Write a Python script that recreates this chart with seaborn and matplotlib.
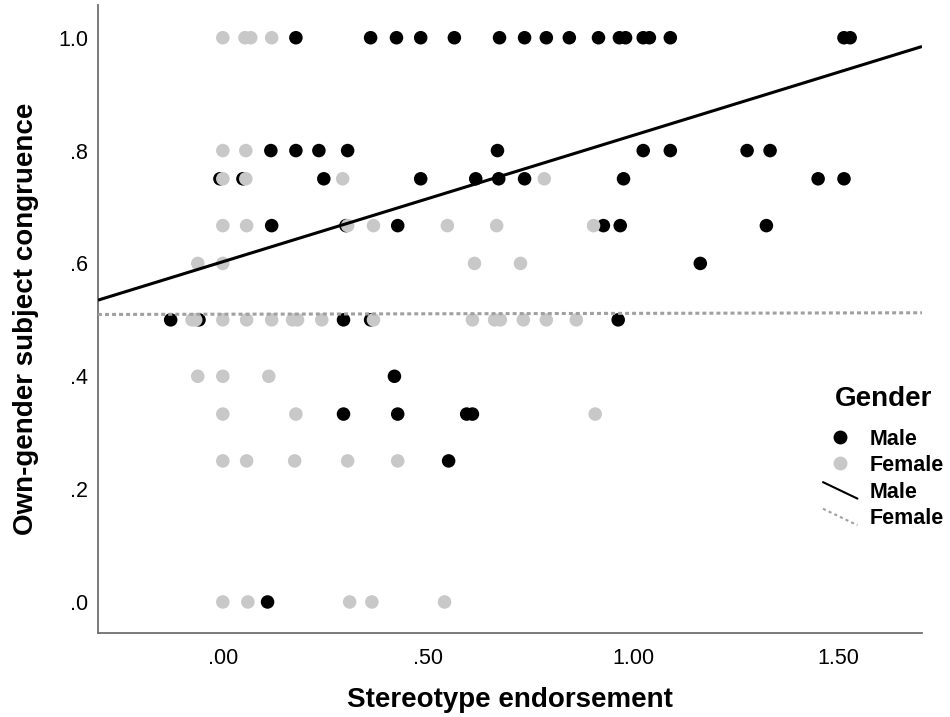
import matplotlib
matplotlib.use("Agg")
import numpy as np
import pandas as pd
import matplotlib.pyplot as plt
import seaborn as sns
from matplotlib.lines import Line2D
from matplotlib.legend_handler import HandlerBase

# ---- data ----
male_x = [
    0.178, 0.360, 0.423, 0.482, 0.564, 0.674, 0.735, 0.788, 0.844, 0.915,
    0.966, 0.981, 1.024, 1.039, 1.090, 1.513, 1.528,
    0.117, 0.178, 0.234, 0.304, 0.669, 1.024, 1.090, 1.277, 1.333,
    -0.007, 0.049, 0.246, 0.482, 0.616, 0.672, 0.735, 0.976, 1.450, 1.513,
    0.119, 0.300, 0.426, 0.927, 0.968, 1.324,
    1.163,
    -0.127, -0.058, 0.294, 0.360, 0.963,
    0.418,
    0.294, 0.426, 0.594, 0.608,
    0.550,
    0.109,
]
male_y = [
    1.0, 1.0, 1.0, 1.0, 1.0, 1.0, 1.0, 1.0, 1.0, 1.0,
    1.0, 1.0, 1.0, 1.0, 1.0, 1.0, 1.0,
    0.8, 0.8, 0.8, 0.8, 0.8, 0.8, 0.8, 0.8, 0.8,
    0.75, 0.75, 0.75, 0.75, 0.75, 0.75, 0.75, 0.75, 0.75, 0.75,
    0.667, 0.667, 0.667, 0.667, 0.667, 0.667,
    0.6,
    0.5, 0.5, 0.5, 0.5, 0.5,
    0.4,
    0.333, 0.333, 0.333, 0.333,
    0.25,
    0.0,
]
female_x = [
    0.000, 0.054, 0.068, 0.119,
    0.000, 0.056,
    0.000, 0.056, 0.292, 0.783,
    0.000, 0.058, 0.304, 0.367, 0.547, 0.667, 0.903,
    -0.061, 0.000, 0.613, 0.725,
    -0.075, -0.066, 0.000, 0.058, 0.119, 0.170, 0.182, 0.241, 0.367, 0.608,
    0.662, 0.676, 0.732, 0.788, 0.861,
    -0.061, 0.000, 0.112,
    0.000, 0.178, 0.907,
    0.000, 0.058, 0.175, 0.304, 0.426,
    0.000, 0.061, 0.309, 0.363, 0.540,
]
female_y = [
    1.0, 1.0, 1.0, 1.0,
    0.8, 0.8,
    0.75, 0.75, 0.75, 0.75,
    0.667, 0.667, 0.667, 0.667, 0.667, 0.667, 0.667,
    0.6, 0.6, 0.6, 0.6,
    0.5, 0.5, 0.5, 0.5, 0.5, 0.5, 0.5, 0.5, 0.5, 0.5,
    0.5, 0.5, 0.5, 0.5, 0.5,
    0.4, 0.4, 0.4,
    0.333, 0.333, 0.333,
    0.25, 0.25, 0.25, 0.25, 0.25,
    0.0, 0.0, 0.0, 0.0, 0.0,
]

genders = ["Male", "Female"]
fit_intercepts = [0.603, 0.510]
fit_slopes = [0.224, 0.0015]

x_ticks = [0.0, 0.5, 1.0, 1.5]
x_tick_labels = [".00", ".50", "1.00", "1.50"]
y_ticks = [0.0, 0.2, 0.4, 0.6, 0.8, 1.0]
y_tick_labels = [".0", ".2", ".4", ".6", ".8", "1.0"]

df = pd.DataFrame({
    "Stereotype endorsement": male_x + female_x,
    "Own-gender subject congruence": male_y + female_y,
    "Gender": ["Male"] * len(male_x) + ["Female"] * len(female_x),
})

# ---- style ----
sns.set_theme(style="white")
plt.rcParams["font.family"] = ["Liberation Sans", "DejaVu Sans"]
plt.rcParams.update({"text.color": "black", "axes.labelcolor": "black"})

point_colors = {"Male": "#000000", "Female": "#c8c8c8"}
line_styles = {
    "Male": dict(color="#000000", lw=2.2, ls="-"),
    "Female": dict(color="#a0a0a0", lw=2.2, ls=(0, (1.3, 1.0))),
}


class HandlerDiagonal(HandlerBase):
    """Legend handle drawn as a short descending diagonal line."""
    def create_artists(self, legend, orig_handle, xdescent, ydescent,
                       width, height, fontsize, trans):
        line = Line2D([-xdescent, -xdescent + width],
                      [-ydescent + height, -ydescent])
        line.update_from(orig_handle)
        line.set_transform(trans)
        return [line]


fig = plt.figure(figsize=(9.5, 7.17), dpi=100)
ax = fig.add_axes([98 / 950, 84 / 717, 824 / 950, 628 / 717])

sns.scatterplot(data=df, x="Stereotype endorsement", y="Own-gender subject congruence",
                hue="Gender", palette=point_colors, s=95, linewidth=0,
                legend=False, ax=ax, zorder=2)

ax.set_xlim(-0.304, 1.703)
ax.set_ylim(-0.055, 1.058)

xs = np.array(ax.get_xlim())
for g, b, m in zip(genders, fit_intercepts, fit_slopes):
    ax.plot(xs, b + m * xs, zorder=3, solid_capstyle="butt", **line_styles[g])

ax.set_xticks(x_ticks)
ax.set_xticklabels(x_tick_labels)
ax.set_yticks(y_ticks)
ax.set_yticklabels(y_tick_labels)
ax.tick_params(axis="both", length=0, labelsize=15.5, colors="black")
ax.tick_params(axis="x", pad=11)
ax.tick_params(axis="y", pad=7)

for side in ["top", "right"]:
    ax.spines[side].set_visible(False)
for side in ["left", "bottom"]:
    ax.spines[side].set_color("#707070")
    ax.spines[side].set_linewidth(1.3)

ax.set_xlabel("Stereotype endorsement", fontsize=20, fontweight="bold", labelpad=13)
ax.set_ylabel("Own-gender subject congruence", fontsize=20, fontweight="bold", labelpad=14)

handles = [
    Line2D([], [], marker="o", ls="", color=point_colors["Male"], markersize=10, markeredgewidth=0),
    Line2D([], [], marker="o", ls="", color=point_colors["Female"], markersize=10, markeredgewidth=0),
    Line2D([], [], lw=1.5, color="#000000", ls="-"),
    Line2D([], [], lw=1.5, color="#a0a0a0", ls=(0, (1.5, 1.5))),
]
labels = ["Male", "Female", "Male", "Female"]
handler_map = {handles[2]: HandlerDiagonal(), handles[3]: HandlerDiagonal()}
leg = fig.legend(handles, labels, handler_map=handler_map, title="Gender",
                 loc="upper left", bbox_to_anchor=(823 / 950, 1 - 386 / 717),
                 frameon=False, borderpad=0, borderaxespad=0,
                 prop={"size": 15.5, "weight": "bold"},
                 handlelength=1.6, handleheight=0.8, handletextpad=0.55,
                 labelspacing=0.26)
leg.get_title().set_fontsize(20)
leg.get_title().set_fontweight("bold")
leg.get_title().set_color("black")
# a bit more room between the title and the first entry
leg._legend_box.sep = 12

fig.savefig("out.png", dpi=100)
